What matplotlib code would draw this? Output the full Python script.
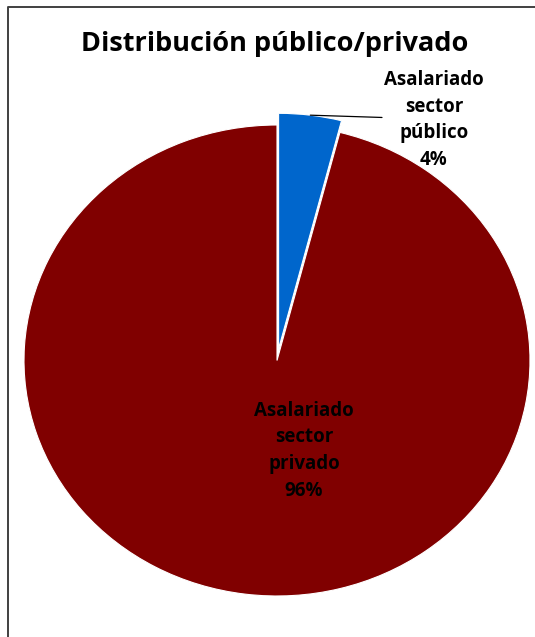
import matplotlib
matplotlib.use("Agg")
import matplotlib.pyplot as plt
import numpy as np

categories = ["Asalariado\nsector\npúblico", "Asalariado\nsector\nprivado"]
values = [4, 96]
colors = ["#0066CC", "#800000"]
explode = [0.05, 0.0]

W, H = 535, 637
fig = plt.figure(figsize=(W / 100, H / 100), dpi=100)
fig.patch.set_facecolor("white")

# overlay for frame
ax0 = fig.add_axes([0, 0, 1, 1])
ax0.set_xlim(0, W)
ax0.set_ylim(H, 0)
ax0.axis("off")
ax0.plot([8, 8, W], [H, 7, 7], color="#404040", lw=1.4, solid_capstyle="butt")

# pie axes, ellipse bounding box in pixels
L, R, T, B = 24, 530, 125, 596
ax = fig.add_axes([L / W, 1 - B / H, (R - L) / W, (B - T) / H])
wedges, _ = ax.pie(values, colors=colors, explode=explode, startangle=90,
                   counterclock=False,
                   wedgeprops=dict(edgecolor="white", linewidth=0.8))
for w in wedges:
    w.set_clip_on(False)
ax.set_aspect("auto")
ax.set_xlim(-1, 1)
ax.set_ylim(-1, 1)
ax.axis("off")

font = "Open Sans"
fs = 13.5

# public label with leader line
w0 = wedges[0]
mid = np.deg2rad((w0.theta1 + w0.theta2) / 2)
cx, cy = w0.center
p0 = (cx + w0.r * np.cos(mid), cy + w0.r * np.sin(mid))
ax.annotate("", xy=p0, xytext=(0.415, 1.032),
            arrowprops=dict(arrowstyle="-", color="black", lw=0.9,
                            shrinkA=0, shrinkB=0), annotation_clip=False)
pct = [v / sum(values) * 100 for v in values]
ax.text(0.62, 1.021, f"{categories[0]}\n{pct[0]:.0f}%", ha="center", va="center",
        fontsize=fs, fontweight="bold", family=font, linespacing=1.45,
        color="black")
ax.text(0.107, -0.383, f"{categories[1]}\n{pct[1]:.0f}%", ha="center", va="center",
        fontsize=fs, fontweight="bold", family=font, linespacing=1.45,
        color="black")

fig.text(275 / W, 1 - 44 / H, "Distribución público/privado", ha="center",
         va="center", fontsize=19.5, fontweight="bold", family=font, color="black")

fig.savefig("out.png", dpi=100, facecolor="white")
